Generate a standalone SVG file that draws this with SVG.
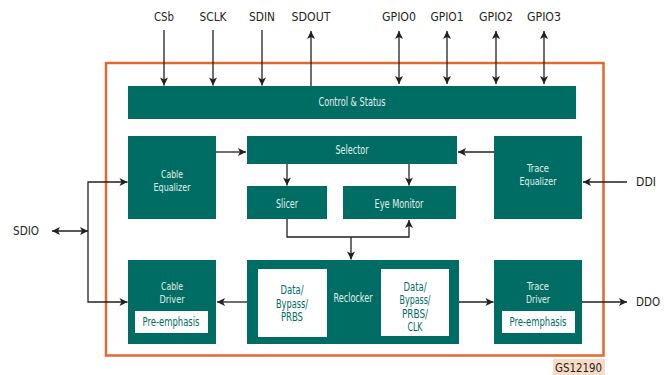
<svg xmlns="http://www.w3.org/2000/svg" width="665" height="375" viewBox="0 0 665 375">
<defs>
<marker id="ah" viewBox="0 0 10 10" refX="10" refY="5" markerWidth="10" markerHeight="8" markerUnits="userSpaceOnUse" orient="auto-start-reverse">
<path d="M0,0 L10,5 L0,10 L2.5,5 Z" fill="#231f20"/>
</marker>
<style>
.blk{fill:#006d64}
.wb{fill:#ffffff}
.bt{font-family:"DejaVu Sans Condensed","Liberation Sans",sans-serif;font-size:12px;fill:#e3efec;text-anchor:middle}
.bt2{font-family:"DejaVu Sans Condensed","Liberation Sans",sans-serif;font-size:11px;fill:#e3efec;text-anchor:middle}
.wt{font-family:"DejaVu Sans Condensed","Liberation Sans",sans-serif;font-size:12px;fill:#006d64;text-anchor:middle}
.lbl{font-family:"DejaVu Sans Condensed","Liberation Sans",sans-serif;font-size:12.5px;fill:#231f20}
.ln{stroke:#231f20;stroke-width:1.3;fill:none}
</style>
</defs>
<rect x="0" y="0" width="665" height="375" fill="#ffffff"/>
<rect x="106" y="63" width="497.5" height="292.5" fill="none" stroke="#e2692d" stroke-width="2.5"/>
<rect x="553" y="359" width="52" height="16" fill="#f8dbc6"/>
<text x="578.5" y="372" text-anchor="middle" class="lbl" font-size="13" textLength="47" lengthAdjust="spacingAndGlyphs">GS12190</text>

<g id="control">
<rect class="blk" x="128" y="86" width="448" height="33"/>
<text class="bt" x="352" y="106" textLength="67" lengthAdjust="spacingAndGlyphs">Control &amp; Status</text>
</g>
<g id="cable-eq">
<rect class="blk" x="128" y="136" width="88" height="83"/>
<text class="bt2" x="172" y="177.5" textLength="22" lengthAdjust="spacingAndGlyphs">Cable</text>
<text class="bt2" x="172" y="190.5" textLength="37" lengthAdjust="spacingAndGlyphs">Equalizer</text>
</g>
<g id="selector">
<rect class="blk" x="247" y="136" width="210" height="28"/>
<text class="bt" x="352" y="154" textLength="33" lengthAdjust="spacingAndGlyphs">Selector</text>
</g>
<g id="trace-eq">
<rect class="blk" x="494" y="136" width="88" height="83"/>
<text class="bt2" x="538" y="172" textLength="22" lengthAdjust="spacingAndGlyphs">Trace</text>
<text class="bt2" x="538" y="185" textLength="37" lengthAdjust="spacingAndGlyphs">Equalizer</text>
</g>
<g id="slicer">
<rect class="blk" x="247" y="186" width="80" height="33"/>
<text class="bt" x="287" y="208" textLength="22" lengthAdjust="spacingAndGlyphs">Slicer</text>
</g>
<g id="eye">
<rect class="blk" x="343" y="186" width="113" height="33"/>
<text class="bt" x="399" y="208" textLength="49" lengthAdjust="spacingAndGlyphs">Eye Monitor</text>
</g>
<g id="cable-drv">
<rect class="blk" x="128" y="260" width="88" height="84"/>
<text class="bt2" x="172" y="289.5" textLength="22" lengthAdjust="spacingAndGlyphs">Cable</text>
<text class="bt2" x="172" y="302.5" textLength="25" lengthAdjust="spacingAndGlyphs">Driver</text>
<rect class="wb" x="135" y="311" width="73" height="22"/>
<text class="wt" x="171" y="326" textLength="57" lengthAdjust="spacingAndGlyphs">Pre-emphasis</text>
</g>
<g id="reclocker">
<rect class="blk" x="247" y="260" width="212" height="84"/>
<text class="bt" x="353" y="302" textLength="39" lengthAdjust="spacingAndGlyphs">Reclocker</text>
<rect class="wb" x="258" y="269" width="69" height="68"/>
<text class="wt" x="292" y="294" textLength="23" lengthAdjust="spacingAndGlyphs">Data/</text>
<text class="wt" x="292" y="308" textLength="32" lengthAdjust="spacingAndGlyphs">Bypass/</text>
<text class="wt" x="292" y="321" textLength="22" lengthAdjust="spacingAndGlyphs">PRBS</text>
<rect class="wb" x="381" y="269" width="68" height="67"/>
<text class="wt" x="415" y="291" textLength="23" lengthAdjust="spacingAndGlyphs">Data/</text>
<text class="wt" x="415" y="304" textLength="31" lengthAdjust="spacingAndGlyphs">Bypass/</text>
<text class="wt" x="415" y="318" textLength="26" lengthAdjust="spacingAndGlyphs">PRBS/</text>
<text class="wt" x="415" y="331" textLength="15" lengthAdjust="spacingAndGlyphs">CLK</text>
</g>
<g id="trace-drv">
<rect class="blk" x="494" y="260" width="88" height="84"/>
<text class="bt2" x="538" y="290" textLength="22" lengthAdjust="spacingAndGlyphs">Trace</text>
<text class="bt2" x="538" y="303" textLength="24" lengthAdjust="spacingAndGlyphs">Driver</text>
<rect class="wb" x="502" y="311" width="73" height="22"/>
<text class="wt" x="538" y="326" textLength="57" lengthAdjust="spacingAndGlyphs">Pre-emphasis</text>
</g>

<g id="labels">
<text class="lbl" x="164" y="21" text-anchor="middle" textLength="20" lengthAdjust="spacingAndGlyphs">CSb</text>
<text class="lbl" x="213" y="21" text-anchor="middle" textLength="27" lengthAdjust="spacingAndGlyphs">SCLK</text>
<text class="lbl" x="262" y="21" text-anchor="middle" textLength="26" lengthAdjust="spacingAndGlyphs">SDIN</text>
<text class="lbl" x="311" y="21" text-anchor="middle" textLength="39" lengthAdjust="spacingAndGlyphs">SDOUT</text>
<text class="lbl" x="399" y="21" text-anchor="middle" textLength="34" lengthAdjust="spacingAndGlyphs">GPIO0</text>
<text class="lbl" x="447" y="21" text-anchor="middle" textLength="33" lengthAdjust="spacingAndGlyphs">GPIO1</text>
<text class="lbl" x="496" y="21" text-anchor="middle" textLength="34" lengthAdjust="spacingAndGlyphs">GPIO2</text>
<text class="lbl" x="544" y="21" text-anchor="middle" textLength="34" lengthAdjust="spacingAndGlyphs">GPIO3</text>
<text class="lbl" x="13" y="235" textLength="26" lengthAdjust="spacingAndGlyphs">SDIO</text>
<text class="lbl" x="636" y="186" textLength="20" lengthAdjust="spacingAndGlyphs">DDI</text>
<text class="lbl" x="636" y="306" textLength="24" lengthAdjust="spacingAndGlyphs">DDO</text>
</g>

<g id="connectors">
<line class="ln" x1="164" y1="30" x2="164" y2="85.5" marker-end="url(#ah)"/>
<line class="ln" x1="213" y1="30" x2="213" y2="85.5" marker-end="url(#ah)"/>
<line class="ln" x1="262" y1="30" x2="262" y2="85.5" marker-end="url(#ah)"/>
<line class="ln" x1="311" y1="86" x2="311" y2="31" marker-end="url(#ah)"/>
<line class="ln" x1="399" y1="31" x2="399" y2="84" marker-start="url(#ah)" marker-end="url(#ah)"/>
<line class="ln" x1="447" y1="31" x2="447" y2="84" marker-start="url(#ah)" marker-end="url(#ah)"/>
<line class="ln" x1="496" y1="31" x2="496" y2="84" marker-start="url(#ah)" marker-end="url(#ah)"/>
<line class="ln" x1="544" y1="31" x2="544" y2="84" marker-start="url(#ah)" marker-end="url(#ah)"/>
<line class="ln" x1="216" y1="152" x2="246" y2="152" marker-end="url(#ah)"/>
<line class="ln" x1="494" y1="152" x2="458" y2="152" marker-end="url(#ah)"/>
<line class="ln" x1="627" y1="182" x2="583" y2="182" marker-end="url(#ah)"/>
<line class="ln" x1="287" y1="164" x2="287" y2="185.5" marker-end="url(#ah)"/>
<line class="ln" x1="409" y1="164" x2="409" y2="185.5" marker-end="url(#ah)"/>
<polyline class="ln" points="287,219 287,237 409,237 409,220" marker-end="url(#ah)"/>
<line class="ln" x1="351" y1="237" x2="351" y2="259.5" marker-end="url(#ah)"/>
<line class="ln" x1="52" y1="231" x2="88" y2="231" marker-start="url(#ah)" marker-end="url(#ah)"/>
<polyline class="ln" points="127.5,182 88,182 88,302 127.5,302" marker-start="url(#ah)" marker-end="url(#ah)"/>
<line class="ln" x1="247" y1="302" x2="217" y2="302" marker-end="url(#ah)"/>
<line class="ln" x1="459" y1="302" x2="493.5" y2="302" marker-end="url(#ah)"/>
<line class="ln" x1="582" y1="302" x2="627" y2="302" marker-end="url(#ah)"/>
</g>
</svg>
